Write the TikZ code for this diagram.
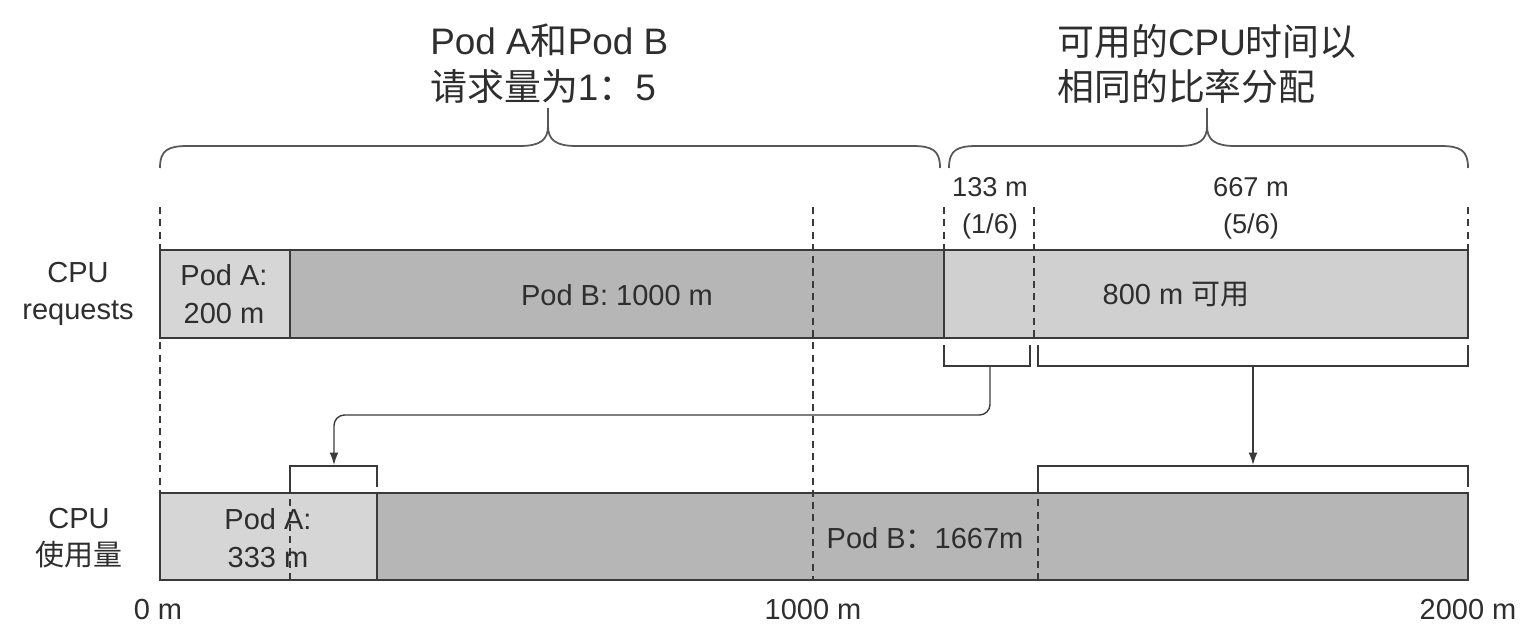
\documentclass[tikz,border=0pt]{standalone}
\usepackage{fontspec}
\setmainfont{Liberation Sans}
\newfontfamily\cjk{Noto Sans CJK SC}
\usetikzlibrary{arrows.meta}
\definecolor{lightbar}{HTML}{D6D6D6}
\definecolor{darkbar}{HTML}{B6B6B6}
\definecolor{freebar}{HTML}{D0D0D0}
\definecolor{ink}{HTML}{3A3A3A}
\definecolor{txt}{HTML}{2E2E2E}

\begin{document}
\begin{tikzpicture}[x=0.02cm,y=-0.02cm,
  barline/.style={draw=ink,line width=1pt},
  guide/.style={ink,dash pattern=on 4pt off 3pt,line width=0.7pt},
  bracket/.style={ink,line width=1pt},
  brace/.style={ink!85,line width=1pt},
  flow/.style={-{Latex[length=7pt,width=5pt]},ink,line width=0.8pt,rounded corners=6pt},
  title/.style={text=txt,font=\fontsize{21}{26}\selectfont,align=left,inner sep=0pt},
  lbl/.style={text=txt,font=\fontsize{16.5}{21.5}\selectfont,align=center,inner sep=0pt},
  small/.style={text=txt,font=\fontsize{15.5}{21}\selectfont,align=center,inner sep=0pt}]
\useasboundingbox (0,0) rectangle (1540,644);

% bars
\fill[lightbar] (160,250) rectangle (290,338);
\fill[darkbar] (290,250) rectangle (944,338);
\fill[freebar] (944,250) rectangle (1468,338);
\fill[lightbar] (160,493) rectangle (377,580);
\fill[darkbar] (377,493) rectangle (1468,580);

% guides
\draw[guide] (160,207) -- (160,493);
\draw[guide] (813,207) -- (813,580);
\draw[guide] (944,207) -- (944,250);
\draw[guide] (1034,207) -- (1034,338);
\draw[guide] (1468,207) -- (1468,250);
\draw[guide] (290,487) -- (290,580);
\draw[guide] (1038,487) -- (1038,580);

\draw[barline] (160,250) rectangle (1468,338);
\draw[barline] (290,250) -- (290,338) (944,250) -- (944,338);
\draw[barline] (160,493) rectangle (1468,580);
\draw[barline] (377,493) -- (377,580);

% brackets
\draw[bracket] (944,345) -- (944,366) -- (1030,366) -- (1030,345);
\draw[bracket] (1038,345) -- (1038,366) -- (1468,366) -- (1468,345);
\draw[bracket] (290,487) -- (290,466) -- (377,466) -- (377,487);
\draw[bracket] (1038,487) -- (1038,466) -- (1468,466) -- (1468,487);

\coordinate (shareA) at (990,366);
\coordinate (shareB) at (1253,366);
\coordinate (bend) at (334,415);
\coordinate (gotA) at (334,465);
\coordinate (gotB) at (1253,465);
\draw[flow] (shareA) |- (bend) -- (gotA);
\draw[flow] (shareB) -- (gotB);

% braces
\draw[brace] (160,168) .. controls (160,150) and (168,146) .. (188,146) -- (520,146)
  .. controls (540,146) and (548,140) .. (548,126) -- (548,108);
\draw[brace] (548,126) .. controls (548,140) and (556,146) .. (576,146) -- (912,146)
  .. controls (932,146) and (940,150) .. (940,168);
\draw[brace] (949,168) .. controls (949,150) and (957,146) .. (977,146) -- (1179,146)
  .. controls (1199,146) and (1207,140) .. (1207,126) -- (1207,108);
\draw[brace] (1207,126) .. controls (1207,140) and (1215,146) .. (1235,146) -- (1440,146)
  .. controls (1460,146) and (1468,150) .. (1468,168);

% texts
\node[title,anchor=west] (ratioNote) at (430,64) {Pod A{\cjk 和}Pod B\\{\cjk 请求量为}1{\cjk ：}5};
\node[title,anchor=west] (shareNote) at (1057,64) {{\cjk 可用的}CPU{\cjk 时间以}\\{\cjk 相同的比率分配}};
\node[small] (share1) at (990,208) {133 m\\(1/6)};
\node[small] (share5) at (1251,208) {667 m\\(5/6)};
\node[lbl] (reqLabel) at (78,294) {CPU\\requests};
\node[lbl] (useLabel) at (79,538) {CPU\\{\cjk 使用量}};
\node[lbl] (reqA) at (224,294) {Pod A:\\200 m};
\node[lbl] (reqB) at (617,295) {Pod B: 1000 m};
\node[lbl] (reqFree) at (1176,295) {800 m {\cjk 可用}};
\node[lbl] (useA) at (268,538) {Pod A:\\333 m};
\node[lbl] (useB) at (925,538) {Pod B{\cjk ：}1667m};
\node[lbl] (tick0) at (158,610) {0 m};
\node[lbl] (tick1000) at (813,610) {1000 m};
\node[lbl] (tick2000) at (1468,610) {2000 m};
\end{tikzpicture}
\end{document}
